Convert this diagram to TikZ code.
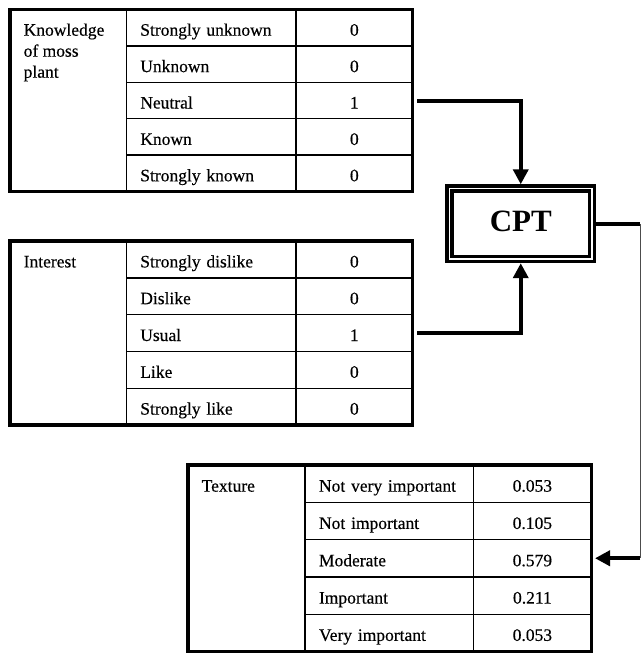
\documentclass[tikz,border=0pt]{standalone}
\usepackage{fontspec}
\setmainfont{Liberation Serif}[UprightFeatures={FakeBold=0.35}]
\usetikzlibrary{arrows.meta,calc}

\tikzset{
  cellbase/.style={draw, line width=1.4pt, inner sep=0pt, outer sep=0pt,
    anchor=north west, font=\fontsize{17.5}{21}\selectfont,
    text height=16pt, text depth=0pt},
  itemcell/.style={align=left},
  valcell/.style={align=center},
  labeltext/.style={inner sep=0pt, anchor=base west,
    font=\fontsize{17.5}{21}\selectfont},
  frame/.style={line width=3.5pt, line join=miter},
  conn/.style={line width=4pt, line join=miter},
  tip/.style={-{Triangle[length=15pt,width=15pt]}},
  rail/.style={line width=1pt, black!70},
  cptbox/.style={draw, double=white, line width=3.4pt, double distance=1.6pt,
    minimum width=142.5pt, minimum height=70.5pt, inner sep=0pt,
    outer sep=4.2pt, font=\fontsize{31}{31}\selectfont\bfseries,
    text height=21pt, text depth=5pt}
}

% #1 name, #2-#5 column edges, #6 top edge, #7 row height, #8 label, #9 rows
\newcommand\probtable[9]{%
  \pgfmathsetmacro\pthw{#3-#2}%
  \pgfmathsetmacro\ptiw{#4-#3}%
  \pgfmathsetmacro\ptitw{#4-#3-28}%
  \pgfmathsetmacro\ptvw{#5-#4}%
  \pgfmathsetmacro\pth{5*#7}%
  \node[cellbase, minimum width=\pthw pt, minimum height=\pth pt] (#1-head) at (#2,#6) {};
  \node[labeltext] (#1-label) at ({#2+13.5},{#6+#7/2+8}) {\parbox[t]{100pt}{\raggedright #8}};
  \foreach \itemtxt/\valtxt [count=\k] in {#9} {%
    \node[cellbase, itemcell, minimum width=\ptiw pt, minimum height=#7 pt,
      text width=\ptitw pt] (#1-i\k) at (#3,{#6+(\k-1)*#7}) {\itemtxt};
    \node[cellbase, valcell, minimum width=\ptvw pt, minimum height=#7 pt]
      (#1-v\k) at (#4,{#6+(\k-1)*#7}) {\valtxt};
  }
  \draw[frame] (#1-head.north west) rectangle (#1-v5.south east);
}

\begin{document}
\begin{tikzpicture}[x=1pt, y=-1pt]
  \useasboundingbox (0,0) rectangle (641,653);

  % input tables
  \probtable{kn}{10}{126.3}{296}{412.7}{9.5}{36.4}
    {Knowledge\\of moss\\plant}
    {Strongly unknown/0, Unknown/0, Neutral/1, Known/0, Strongly known/0}
  \probtable{in}{10}{126.3}{296}{412.7}{241}{36.8}
    {Interest}
    {Strongly dislike/0, Dislike/0, Usual/1, Like/0, Strongly like/0}

  % output table
  \probtable{tx}{188}{305}{473.3}{591.5}{465}{37.3}
    {Texture}
    {Not very important/0.053, Not important/0.105, Moderate/0.579,
     Important/0.211, Very important/0.053}

  % conditional probability table
  \node[cptbox] (cpt) at (520.75,223.75) {CPT};

  % connectors
  \coordinate (railx) at (640,0);
  \draw[conn, tip, shorten <=4.3pt] (kn-v3.east) -| (cpt.north);
  \draw[conn, tip, shorten <=4.3pt] (in-v3.east) -| (cpt.south);
  \draw[conn] (cpt.east) -- (cpt.east -| railx);
  \draw[rail] (cpt.east -| railx) -- (tx-v3.east -| railx);
  \draw[conn, tip, shorten >=3.5pt] (tx-v3.east -| railx) -- (tx-v3.east);
\end{tikzpicture}
\end{document}
